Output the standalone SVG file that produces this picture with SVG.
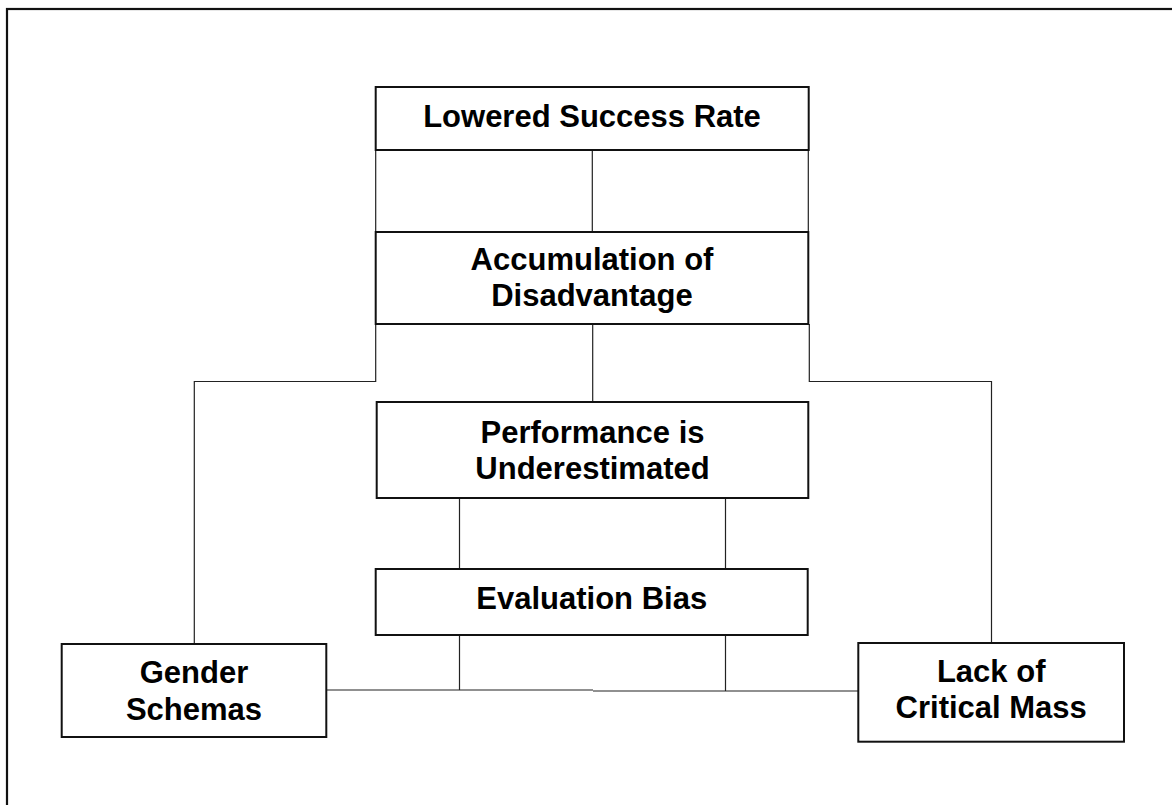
<svg xmlns="http://www.w3.org/2000/svg" width="1172" height="805" viewBox="0 0 1172 805">
<style>
.frame{fill:none;stroke:#111;stroke-width:2.2}
.box{fill:#fff;stroke:#111;stroke-width:2}
.lbl{font-family:"Liberation Sans",Arial,sans-serif;font-weight:bold;font-size:31px;fill:#000;text-anchor:middle}
.conn{fill:none;stroke:#222;stroke-width:1.2}
</style>
<rect width="1172" height="805" fill="#fff"/>
<rect class="frame" x="7" y="9" width="1200" height="840"/>
<g id="connectors">
<path class="conn" d="M375.7,150 V232 M592.3,150 V232 M808.3,150 V232"/>
<path class="conn" d="M375.7,324 V381.5 H194.3 V644"/>
<path class="conn" d="M592.7,324 V402"/>
<path class="conn" d="M809.3,324 V381.5 H991.5 V643"/>
<path class="conn" d="M459.5,498 V569 M725.5,498 V569"/>
<path class="conn" d="M459.5,635 V690 M725.5,635 V691"/>
<path class="conn" d="M326.3,690 H593 M593,691 H858.3"/>
</g>
<g id="lowered">
<rect class="box" x="375.7" y="87" width="433" height="63"/>
<text class="lbl" x="592" y="127">Lowered Success Rate</text>
</g>
<g id="accumulation">
<rect class="box" x="375.7" y="232" width="432.6" height="92"/>
<text class="lbl" x="592" y="270">Accumulation of</text>
<text class="lbl" x="592" y="306">Disadvantage</text>
</g>
<g id="performance">
<rect class="box" x="376.7" y="402" width="431.6" height="96"/>
<text class="lbl" x="592.5" y="443">Performance is</text>
<text class="lbl" x="592.5" y="479">Underestimated</text>
</g>
<g id="evaluation">
<rect class="box" x="375.7" y="569" width="432" height="66"/>
<text class="lbl" x="591.7" y="609">Evaluation Bias</text>
</g>
<g id="gender">
<rect class="box" x="61.7" y="644" width="264.6" height="93"/>
<text class="lbl" x="194" y="683">Gender</text>
<text class="lbl" x="194" y="720">Schemas</text>
</g>
<g id="critical">
<rect class="box" x="858.3" y="643" width="265.7" height="98.7"/>
<text class="lbl" x="991.2" y="682">Lack of</text>
<text class="lbl" x="991.2" y="718">Critical Mass</text>
</g>
</svg>
